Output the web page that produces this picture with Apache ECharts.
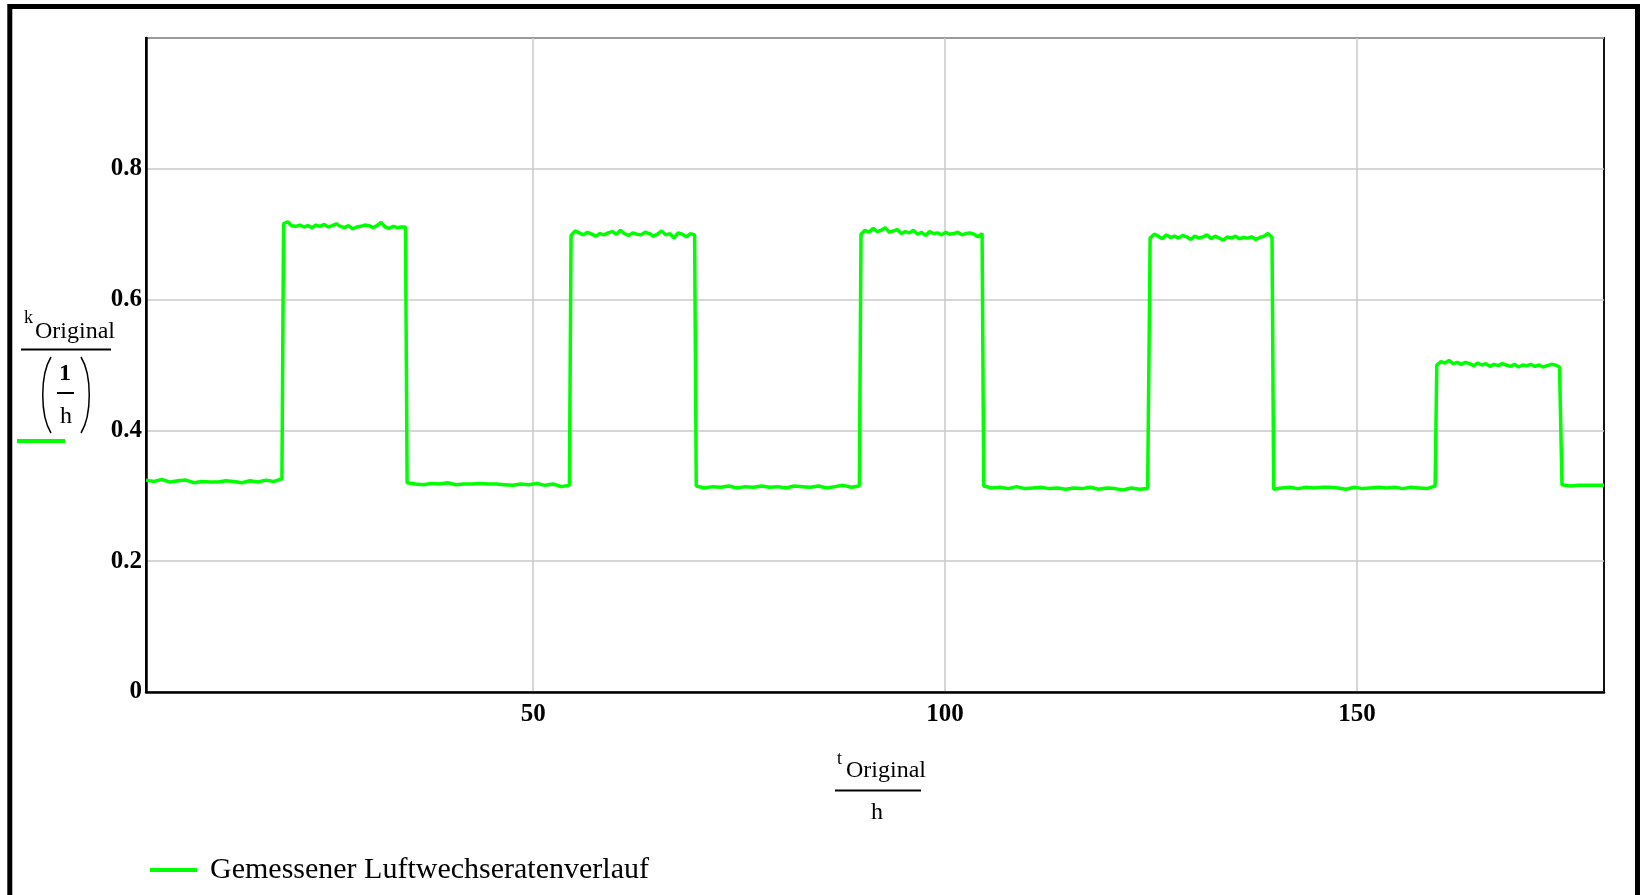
<!DOCTYPE html>
<html>
<head>
	<meta charset="utf-8">
	<title>Luftwechselrate</title>
	<script src="https://cdn.jsdelivr.net/npm/echarts@6/dist/echarts.min.js"></script>
	<style>
		html, body { margin: 0; padding: 0; background: #fff; }
		#main { width: 1642px; height: 895px; }
	</style>
</head>
<body>
<div id="main"></div>
<script>
	// Abschnitte: Start- und Endzeit (h) jedes Plateaus
	var segStart = [3, 19.7, 34.7, 54.6, 69.8, 89.8, 104.7, 124.9, 139.9, 159.7, 174.9];
	var segEnd   = [19.5, 34.5, 54.4, 69.6, 89.6, 104.5, 124.6, 139.7, 159.5, 174.6, 180];

	// Messwerte k (1/h) je Abschnitt, gleichmaessig ueber den Abschnitt verteilt
	var low1 = [0.324, 0.322, 0.325, 0.321, 0.323, 0.324, 0.320, 0.322, 0.321, 0.321, 0.323, 0.322, 0.320, 0.323, 0.321, 0.324, 0.322, 0.326];
	var high1 = [0.716, 0.719, 0.713, 0.712, 0.714, 0.711, 0.713, 0.710, 0.714, 0.712, 0.715, 0.711, 0.713, 0.716, 0.712, 0.710, 0.713, 0.708, 0.711, 0.712, 0.714, 0.713, 0.710, 0.713, 0.718, 0.711, 0.709, 0.712, 0.710, 0.711, 0.711];
	var low2 = [0.320, 0.318, 0.317, 0.319, 0.318, 0.320, 0.317, 0.318, 0.318, 0.319, 0.318, 0.318, 0.317, 0.316, 0.318, 0.317, 0.319, 0.316, 0.318, 0.314, 0.316];
	var high2 = [0.698, 0.705, 0.702, 0.699, 0.703, 0.700, 0.697, 0.701, 0.699, 0.702, 0.704, 0.700, 0.706, 0.701, 0.698, 0.702, 0.700, 0.699, 0.703, 0.701, 0.697, 0.700, 0.705, 0.699, 0.701, 0.694, 0.702, 0.700, 0.696, 0.701, 0.699];
	var low3 = [0.315, 0.312, 0.314, 0.313, 0.315, 0.312, 0.314, 0.313, 0.315, 0.313, 0.314, 0.312, 0.315, 0.314, 0.313, 0.315, 0.312, 0.314, 0.316, 0.313, 0.315];
	var high3 = [0.700, 0.706, 0.703, 0.709, 0.704, 0.706, 0.710, 0.703, 0.705, 0.707, 0.701, 0.704, 0.702, 0.706, 0.700, 0.703, 0.698, 0.704, 0.701, 0.702, 0.699, 0.703, 0.700, 0.701, 0.703, 0.699, 0.701, 0.702, 0.700, 0.696, 0.701];
	var low4 = [0.315, 0.312, 0.313, 0.311, 0.314, 0.311, 0.312, 0.313, 0.311, 0.312, 0.310, 0.312, 0.311, 0.313, 0.310, 0.312, 0.311, 0.309, 0.312, 0.310, 0.311];
	var high4 = [0.694, 0.700, 0.697, 0.693, 0.699, 0.695, 0.697, 0.694, 0.698, 0.696, 0.692, 0.697, 0.694, 0.696, 0.699, 0.693, 0.697, 0.694, 0.691, 0.696, 0.694, 0.697, 0.693, 0.695, 0.694, 0.696, 0.692, 0.695, 0.697, 0.701, 0.695];
	var low5 = [0.310, 0.312, 0.313, 0.311, 0.313, 0.312, 0.313, 0.313, 0.312, 0.310, 0.313, 0.311, 0.312, 0.313, 0.312, 0.313, 0.311, 0.313, 0.312, 0.311, 0.315];
	var high5 = [0.500, 0.505, 0.503, 0.507, 0.502, 0.504, 0.501, 0.504, 0.502, 0.499, 0.503, 0.500, 0.502, 0.498, 0.501, 0.499, 0.502, 0.500, 0.498, 0.501, 0.497, 0.500, 0.499, 0.501, 0.498, 0.500, 0.497, 0.499, 0.501, 0.500, 0.497];
	var low6 = [0.317, 0.315, 0.316, 0.316, 0.316, 0.316];

	var segValues = [low1, high1, low2, high2, low3, high3, low4, high4, low5, high5, low6];

	// Achsenbeschriftung
	var xTicks = [50, 100, 150];
	var seriesName = 'Gemessener Luftwechseratenverlauf';

	var font = 'Liberation Serif';

	function buildData() {
		var data = [];
		segValues.forEach(function(vals, s) {
			var t0 = segStart[s], t1 = segEnd[s];
			var n = vals.length;
			vals.forEach(function(v, i) {
				var t = n > 1 ? t0 + (t1 - t0) * i / (n - 1) : t0;
				data.push([t, v]);
			});
		});
		return data;
	}

	var myChart = echarts.init(document.getElementById('main'));

	var option = {
		animation: false,
		backgroundColor: '#fff',
		grid: {
			left: 146,
			top: 38,
			right: 38,
			bottom: 203,
			show: true,
			borderColor: '#111',
			borderWidth: 2
		},
		legend: {
			left: 145,
			top: 850,
			icon: 'rect',
			itemWidth: 47,
			itemHeight: 4,
			data: [seriesName],
			textStyle: {
				fontFamily: font,
				fontSize: 30,
				color: '#000',
				padding: [0, 0, 0, 8]
			}
		},
		xAxis: {
			type: 'value',
			min: 3,
			max: 180,
			axisLine: { show: true, onZero: false, lineStyle: { color: '#000', width: 2.5 } },
			axisTick: { show: false, customValues: xTicks },
			axisLabel: {
				customValues: xTicks,
				margin: 10,
				fontFamily: font,
				fontWeight: 'bold',
				fontSize: 25,
				color: '#000'
			},
			splitLine: { show: true, lineStyle: { color: '#c8c8c8', width: 1.5 } }
		},
		yAxis: {
			type: 'value',
			min: 0,
			max: 1,
			interval: 0.2,
			axisLine: { show: true, onZero: false, lineStyle: { color: '#000', width: 2.5 } },
			axisTick: { show: false },
			axisLabel: {
				showMaxLabel: false,
				margin: 4,
				fontFamily: font,
				fontWeight: 'bold',
				fontSize: 25,
				color: '#000',
				formatter: function(v) { return v >= 1 ? '' : String(+v.toFixed(1)); }
			},
			splitLine: { show: true, lineStyle: { color: '#c8c8c8', width: 1.5 } }
		},
		series: [{
			name: seriesName,
			type: 'line',
			showSymbol: false,
			color: '#00ff00',
			lineStyle: { color: '#00ff00', width: 3.5 },
			data: buildData()
		}],
		graphic: [
			// aeusserer Rahmen
			{ type: 'rect', silent: true, shape: { x: 9.8, y: 6.5, width: 1627.7, height: 1000 },
				style: { fill: null, stroke: '#000', lineWidth: 5 } },
			// y-Achsenname  k_Original / (1/h)
			{ type: 'text', left: 24, top: 309, style: { text: 'k', font: '18px ' + font, fill: '#000' } },
			{ type: 'text', left: 35, top: 320, style: { text: 'Original', font: '24px ' + font, fill: '#000' } },
			{ type: 'line', shape: { x1: 21, y1: 349.5, x2: 111, y2: 349.5 }, style: { stroke: '#000', lineWidth: 2 } },
			{ type: 'text', left: 59, top: 362, style: { text: '1', font: 'bold 24px ' + font, fill: '#000' } },
			{ type: 'line', shape: { x1: 57, y1: 393, x2: 74, y2: 393 }, style: { stroke: '#000', lineWidth: 2 } },
			{ type: 'text', left: 60, top: 405, style: { text: 'h', font: '24px ' + font, fill: '#000' } },
			{ type: 'bezierCurve', shape: { x1: 51, y1: 357, cpx1: 40, cpy1: 375, cpx2: 40, cpy2: 415, x2: 51, y2: 433 },
				style: { stroke: '#000', lineWidth: 1.5, fill: null } },
			{ type: 'bezierCurve', shape: { x1: 81, y1: 357, cpx1: 92, cpy1: 375, cpx2: 92, cpy2: 415, x2: 81, y2: 433 },
				style: { stroke: '#000', lineWidth: 1.5, fill: null } },
			{ type: 'line', shape: { x1: 17, y1: 441, x2: 65, y2: 441 }, style: { stroke: '#00ff00', lineWidth: 4 } },
			// x-Achsenname  t_Original / h
			{ type: 'text', left: 837, top: 750, style: { text: 't', font: '18px ' + font, fill: '#000' } },
			{ type: 'text', left: 846, top: 759, style: { text: 'Original', font: '24px ' + font, fill: '#000' } },
			{ type: 'line', shape: { x1: 835, y1: 790.5, x2: 921, y2: 790.5 }, style: { stroke: '#000', lineWidth: 2 } },
			{ type: 'text', left: 871, top: 801, style: { text: 'h', font: '24px ' + font, fill: '#000' } }
		]
	};

	myChart.setOption(option);
</script>
</body>
</html>
